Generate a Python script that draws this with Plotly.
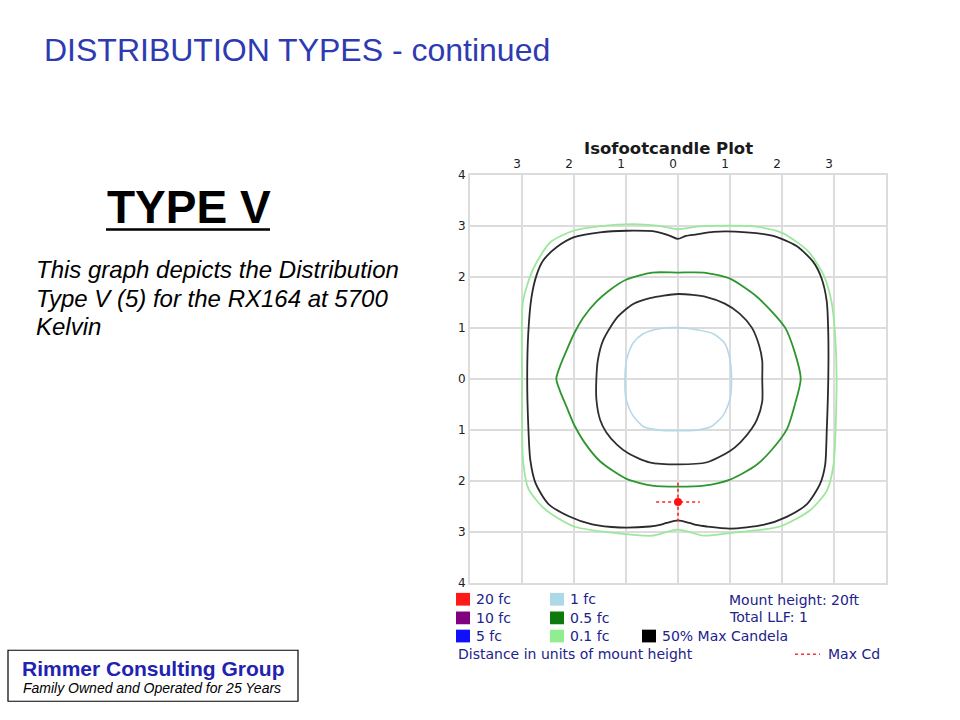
import plotly.graph_objects as go

W, H = 960, 720

# ---------------- data (units of mount height) ----------------
AXIS_TICKS = [-4, -3, -2, -1, 0, 1, 2, 3, 4]
TOP_TICKS = [-3, -2, -1, 0, 1, 2, 3]

ONE_FC_X = [1.03, 1.00, 0.90, 0.68, 0.36, 0.00, -0.36, -0.67, -0.87, -0.99, -1.02,
            -1.00, -0.87, -0.65, -0.36, 0.00, 0.36, 0.62, 0.87, 1.00, 1.03]
ONE_FC_Y = [0.00, 0.37, 0.69, 0.88, 0.96, 1.00, 0.98, 0.88, 0.69, 0.37, 0.00,
            -0.40, -0.72, -0.95, -1.01, -1.02, -1.01, -0.95, -0.72, -0.40, 0.00]

INNER_BLACK_X = [1.62, 1.62, 1.56, 1.42, 1.18, 0.90, 0.55, 0.00, -0.54, -0.87, -1.17, -1.44,
                 -1.54, -1.57, -1.57, -1.50, -1.38, -1.17, -0.95, -0.55, 0.00, 0.56, 1.00,
                 1.20, 1.42, 1.52, 1.62, 1.62]
INNER_BLACK_Y = [0.00, 0.35, 0.65, 1.00, 1.28, 1.47, 1.60, 1.66, 1.58, 1.46, 1.20, 0.75,
                 0.37, 0.00, -0.40, -0.80, -1.05, -1.30, -1.47, -1.64, -1.68, -1.64, -1.42,
                 -1.25, -0.98, -0.80, -0.45, 0.00]

HALF_FC_X = [2.36, 2.25, 2.06, 1.80, 1.50, 1.00, 0.50, 0.00, -0.50, -1.00, -1.31, -1.56,
             -1.82, -2.00, -2.14, -2.27, -2.34, -2.27, -2.14, -2.00, -1.80, -1.50, -1.00,
             -0.50, 0.00, 0.50, 1.00, 1.50, 1.80, 2.10, 2.25, 2.36]
HALF_FC_Y = [0.00, 0.50, 1.00, 1.32, 1.62, 1.96, 2.08, 2.08, 2.08, 1.94, 1.74, 1.52,
             1.20, 0.88, 0.56, 0.24, 0.00, -0.24, -0.56, -0.90, -1.25, -1.62, -1.96,
             -2.10, -2.12, -2.10, -1.98, -1.70, -1.40, -0.98, -0.50, 0.00]

MAX_CD50_X = [2.89, 2.89, 2.86, 2.76, 2.60, 2.28, 1.83, 1.32, 0.68, 0.36, 0.15, 0.00,
              -0.15, -0.41, -0.99, -1.50, -2.01, -2.33, -2.59, -2.72, -2.82, -2.88, -2.90,
              -2.88, -2.84, -2.74, -2.50, -2.10, -1.65, -1.12, -0.54, -0.35, -0.22, 0.00,
              0.22, 0.35, 0.55, 1.00, 1.64, 2.09, 2.48, 2.73, 2.83, 2.86, 2.89]
MAX_CD50_Y = [0.00, 0.88, 1.52, 1.97, 2.29, 2.60, 2.80, 2.87, 2.88, 2.83, 2.80, 2.74,
              2.80, 2.88, 2.90, 2.87, 2.77, 2.58, 2.32, 2.03, 1.58, 0.88, 0.00,
              -0.90, -1.60, -2.05, -2.45, -2.70, -2.86, -2.92, -2.90, -2.87, -2.83, -2.78,
              -2.83, -2.87, -2.90, -2.94, -2.87, -2.71, -2.46, -2.07, -1.69, -1.04, 0.00]

TENTH_FC_X = [3.05, 3.02, 2.95, 2.80, 2.50, 2.00, 1.50, 1.00, 0.36, 0.00, -0.40, -0.86,
              -1.50, -2.01, -2.46, -2.78, -2.98, -3.00, -2.98, -2.88, -2.56, -2.00, -1.00,
              -0.50, 0.00, 0.50, 1.00, 1.96, 2.54, 2.86, 2.99, 3.05]
TENTH_FC_Y = [0.00, 0.88, 1.52, 2.03, 2.50, 2.86, 2.98, 3.00, 2.98, 2.93, 3.00, 3.03,
              2.99, 2.90, 2.67, 2.16, 1.52, 0.00, -1.60, -2.15, -2.56, -2.90, -3.05,
              -3.08, -2.96, -3.08, -3.03, -2.90, -2.58, -2.20, -1.69, 0.00]

MAX_CD_POINT = (0.0, -2.42)
MAX_CD_CROSS_X = [-0.42, 0.42]
MAX_CD_CROSS_Y = [-2.04, -2.80]

LEGEND_ITEMS = [  # (label, colour, column, row)
    ("20 fc", "#FF1A1A", 0, 0), ("10 fc", "#800080", 0, 1), ("5 fc", "#1010FF", 0, 2),
    ("1 fc", "#ADD8E6", 1, 0), ("0.5 fc", "#0E7A0E", 1, 1), ("0.1 fc", "#90EE90", 1, 2),
    ("50% Max Candela", "#000000", 2, 2),
]
INFO_LINES = ["Mount height: 20ft", "Total LLF: 1"]

# ---------------- helpers ----------------
def px(x):
    return x / W


def py(y):
    return 1 - y / H


fig = go.Figure()


def contour(xs, ys, color, width, name):
    fig.add_trace(go.Scatter(x=xs, y=ys, mode="lines", name=name,
                             line=dict(color=color, width=width, shape="spline", smoothing=0.7),
                             hoverinfo="skip", showlegend=False))


contour(TENTH_FC_X, TENTH_FC_Y, "#9BE89B", 1.8, "0.1 fc")
contour(MAX_CD50_X, MAX_CD50_Y, "#2a2a2a", 1.8, "50% Max Candela")
contour(HALF_FC_X, HALF_FC_Y, "#2E962E", 1.8, "0.5 fc")
contour(INNER_BLACK_X, INNER_BLACK_Y, "#2f2f2f", 1.8, "inner")
contour(ONE_FC_X, ONE_FC_Y, "#B5D9E8", 1.6, "1 fc")

cx, cy = MAX_CD_POINT
fig.add_trace(go.Scatter(x=MAX_CD_CROSS_X, y=[cy, cy], mode="lines",
                         line=dict(color="#FF2020", width=1.6, dash="3px,3px"),
                         showlegend=False, hoverinfo="skip"))
fig.add_trace(go.Scatter(x=[cx, cx], y=MAX_CD_CROSS_Y, mode="lines",
                         line=dict(color="#FF2020", width=1.6, dash="3px,3px"),
                         showlegend=False, hoverinfo="skip"))
fig.add_trace(go.Scatter(x=[cx], y=[cy], mode="markers",
                         marker=dict(color="#FF1010", size=8),
                         showlegend=False, hoverinfo="skip"))

grid = "#DCDCDC"
fig.update_layout(
    width=W, height=H, margin=dict(l=0, r=0, t=0, b=0),
    paper_bgcolor="white", plot_bgcolor="white", showlegend=False,
    xaxis=dict(domain=[px(470), px(886)], range=[-4, 4], side="top",
               tickvals=TOP_TICKS, ticktext=[str(abs(v)) for v in TOP_TICKS],
               showgrid=True, gridcolor=grid, gridwidth=2, zeroline=False,
               showline=True, mirror=True,
               linecolor=grid, linewidth=2, ticks="", ticklabelshift=-5,
               tickfont=dict(family="DejaVu Sans", size=12, color="#222")),
    yaxis=dict(domain=[py(587), py(171)], range=[-4, 4],
               tickvals=AXIS_TICKS, ticktext=[str(abs(v)) for v in AXIS_TICKS],
               showgrid=True, gridcolor=grid, gridwidth=2, zeroline=False,
               showline=True, mirror=True, linecolor=grid, linewidth=2, ticks="",
               tickfont=dict(family="DejaVu Sans", size=12, color="#222")),
)

shapes = []
ann = []

# slide title
ann.append(dict(x=px(42), y=py(44), xref="paper", yref="paper", xanchor="left", yanchor="middle",
                text="DISTRIBUTION TYPES - continued", showarrow=False,
                font=dict(family="Liberation Sans", size=32, color="#2E3AB2")))
# TYPE V
ann.append(dict(x=px(105), y=py(204), xref="paper", yref="paper", xanchor="left", yanchor="middle",
                text="<b>TYPE V</b>", showarrow=False,
                font=dict(family="Liberation Sans", size=46, color="#000")))
shapes.append(dict(type="line", xref="paper", yref="paper", x0=px(106), x1=px(270),
                   y0=py(227), y1=py(227), line=dict(color="#000", width=2.5)))
# body text
for i, line in enumerate(["This graph depicts the Distribution",
                          "Type V (5) for the RX164 at 5700",
                          "Kelvin"]):
    ann.append(dict(x=px(34), y=py(268 + 29 * i), xref="paper", yref="paper",
                    xanchor="left", yanchor="middle", text="<i>%s</i>" % line, showarrow=False,
                    font=dict(family="Liberation Sans", size=24, color="#000")))

# footer box
shapes.append(dict(type="rect", xref="paper", yref="paper", x0=px(8), x1=px(298),
                   y0=py(708), y1=py(656), line=dict(color="#000", width=1.2),
                   fillcolor="white"))
ann.append(dict(x=px(153), y=py(675), xref="paper", yref="paper", xanchor="center",
                yanchor="middle", text="<b>Rimmer Consulting Group</b>", showarrow=False,
                font=dict(family="Liberation Sans", size=21, color="#2222B0")))
ann.append(dict(x=px(152), y=py(695), xref="paper", yref="paper", xanchor="center",
                yanchor="middle", text="<i>Family Owned and Operated for 25 Years</i>",
                showarrow=False, font=dict(family="Liberation Sans", size=14, color="#000")))

# chart title
ann.append(dict(x=px(668), y=py(144), xref="paper", yref="paper", xanchor="center",
                yanchor="middle", text="<b>Isofootcandle Plot</b>", showarrow=False,
                font=dict(family="DejaVu Sans", size=16.5, color="#1a1a1a")))

# legend
navy = "#22228A"
col_sq = [456, 550, 642]
row_y = [604, 623, 641.5]
for label, color, c, r in LEGEND_ITEMS:
    x0 = col_sq[c]
    yc = row_y[r]
    shapes.append(dict(type="rect", xref="paper", yref="paper", x0=px(x0), x1=px(x0 + 14),
                       y0=py(yc + 6.5), y1=py(yc - 6.5), line=dict(width=0), fillcolor=color))
    ann.append(dict(x=px(x0 + 18), y=py(yc), xref="paper", yref="paper", xanchor="left",
                    yanchor="middle", text=label, showarrow=False,
                    font=dict(family="DejaVu Sans", size=14, color=navy)))
for i, t in enumerate(INFO_LINES):
    ann.append(dict(x=px(727), y=py(605 + 17.5 * i), xref="paper", yref="paper", xanchor="left",
                    yanchor="middle", text=t, showarrow=False,
                    font=dict(family="DejaVu Sans", size=14, color=navy)))
ann.append(dict(x=px(456), y=py(660), xref="paper", yref="paper", xanchor="left",
                yanchor="middle", text="Distance in units of mount height", showarrow=False,
                font=dict(family="DejaVu Sans", size=14, color=navy)))
ann.append(dict(x=px(882), y=py(660), xref="paper", yref="paper", xanchor="right",
                yanchor="middle", text="Max Cd", showarrow=False,
                font=dict(family="DejaVu Sans", size=14, color=navy)))
shapes.append(dict(type="line", xref="paper", yref="paper", x0=px(795), x1=px(820),
                   y0=py(660), y1=py(660), line=dict(color="#FF3030", width=1.5, dash="3px,3px")))

fig.update_layout(shapes=shapes, annotations=ann)
fig.write_html(
    "out.html",
    config={"displayModeBar": False},
    post_script="document.body.style.margin='0';",
)
